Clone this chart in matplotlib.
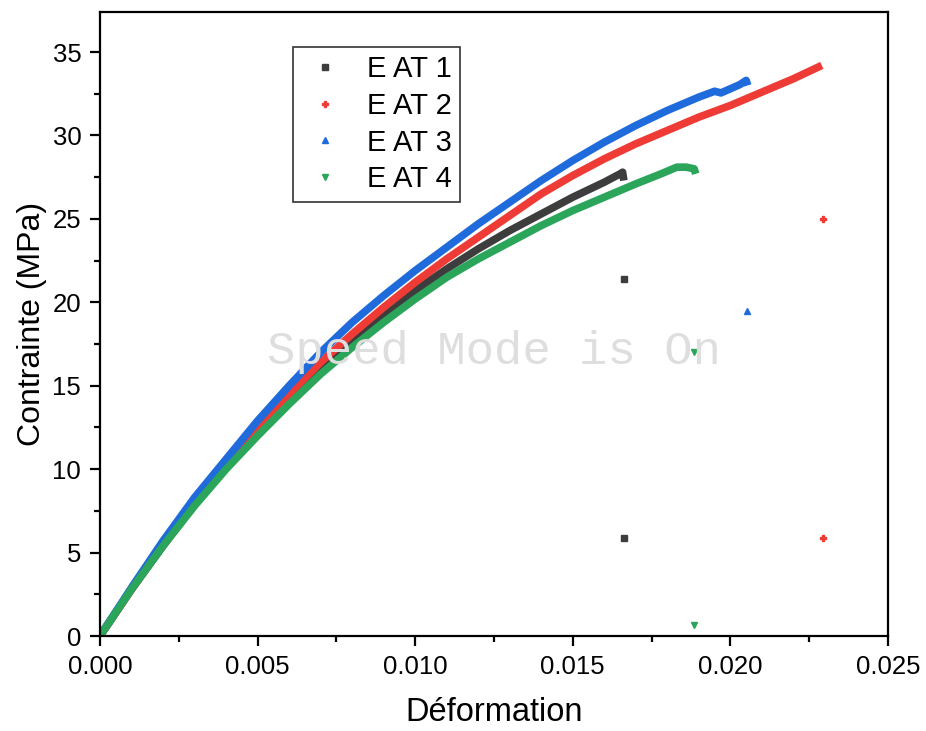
import matplotlib
matplotlib.use("Agg")
import matplotlib.pyplot as plt
from matplotlib.ticker import MultipleLocator, FormatStrFormatter

plt.rcParams['font.family'] = ['Liberation Sans', 'DejaVu Sans']

# Strain / stress curves for the four specimens
strain_1 = [0.000, 0.001, 0.002, 0.003, 0.004, 0.005, 0.006, 0.007, 0.008, 0.009,
            0.010, 0.011, 0.012, 0.013, 0.014, 0.015, 0.016, 0.0165, 0.01658, 0.01662]
stress_1 = [0.0, 2.8, 5.4, 7.9, 10.1, 12.2, 14.2, 16.0, 17.7, 19.3,
            20.7, 22.0, 23.2, 24.3, 25.3, 26.3, 27.2, 27.7, 27.8, 27.3]

strain_2 = [0.000, 0.001, 0.002, 0.003, 0.004, 0.005, 0.006, 0.007, 0.008, 0.009,
            0.010, 0.011, 0.012, 0.013, 0.014, 0.015, 0.016, 0.017, 0.018, 0.019,
            0.020, 0.021, 0.022, 0.0229]
stress_2 = [0.0, 2.8, 5.5, 8.0, 10.3, 12.5, 14.5, 16.4, 18.1, 19.7,
            21.2, 22.6, 23.9, 25.2, 26.5, 27.6, 28.6, 29.5, 30.3, 31.1,
            31.8, 32.6, 33.4, 34.2]

strain_3 = [0.000, 0.001, 0.002, 0.003, 0.004, 0.005, 0.006, 0.007, 0.008, 0.009,
            0.010, 0.011, 0.012, 0.013, 0.014, 0.015, 0.016, 0.017, 0.018, 0.019,
            0.0195, 0.0197, 0.0200, 0.0203, 0.0205, 0.02055]
stress_3 = [0.0, 2.9, 5.7, 8.3, 10.6, 12.9, 15.0, 17.0, 18.8, 20.4,
            21.9, 23.3, 24.7, 26.0, 27.3, 28.5, 29.6, 30.6, 31.5, 32.3,
            32.65, 32.55, 32.8, 33.05, 33.3, 33.0]

strain_4 = [0.000, 0.001, 0.002, 0.003, 0.004, 0.005, 0.006, 0.007, 0.008, 0.009,
            0.010, 0.011, 0.012, 0.013, 0.014, 0.015, 0.016, 0.017, 0.0178, 0.0183,
            0.0186, 0.01885, 0.0189]
stress_4 = [0.0, 2.8, 5.4, 7.8, 10.0, 12.0, 13.9, 15.7, 17.3, 18.8,
            20.2, 21.5, 22.6, 23.6, 24.6, 25.5, 26.3, 27.1, 27.7, 28.1,
            28.1, 28.0, 27.7]

# Isolated points recorded after rupture
tail_strain_1 = [0.01662, 0.01662]
tail_stress_1 = [21.4, 5.9]
tail_strain_2 = [0.02294, 0.02294]
tail_stress_2 = [25.0, 5.9]
tail_strain_3 = [0.02053]
tail_stress_3 = [19.5]
tail_strain_4 = [0.01884, 0.01884]
tail_stress_4 = [17.0, 0.66]

labels = ["E AT 1", "E AT 2", "E AT 3", "E AT 4"]
colors = ["#3d3d3d", "#ee3b36", "#1f6bdb", "#2aa55a"]
markers = ["s", "P", "^", "v"]

W, H = 926, 731
fig = plt.figure(figsize=(W / 100, H / 100), dpi=100)
ax = fig.add_axes([100 / W, 1 - 636 / H, (888 - 100) / W, (636 - 12) / H])

curves = [(strain_1, stress_1, tail_strain_1, tail_stress_1),
          (strain_2, stress_2, tail_strain_2, tail_stress_2),
          (strain_3, stress_3, tail_strain_3, tail_stress_3),
          (strain_4, stress_4, tail_strain_4, tail_stress_4)]

for (sx, sy, tx, ty), lab, col, mk in zip(curves, labels, colors, markers):
    ax.plot(sx, sy, color=col, lw=5.5, solid_capstyle='butt', solid_joinstyle='round', zorder=2)
    ax.plot(tx, ty, linestyle='none', marker=mk, color=col, markersize=4.2, zorder=2)
    ax.plot([], [], linestyle='none', marker=mk, color=col, markersize=4.2, label=lab)

ax.set_xlim(0, 0.025)
ax.set_ylim(0, 37.4)
ax.xaxis.set_major_locator(MultipleLocator(0.005))
ax.xaxis.set_minor_locator(MultipleLocator(0.0025))
ax.yaxis.set_major_locator(MultipleLocator(5))
ax.yaxis.set_minor_locator(MultipleLocator(2.5))
ax.xaxis.set_major_formatter(FormatStrFormatter('%.3f'))
ax.yaxis.set_major_formatter(FormatStrFormatter('%d'))

for s in ax.spines.values():
    s.set_linewidth(1.6)
ax.tick_params(which='major', direction='out', length=7.5, width=1.6, labelsize=18.5,
               top=False, right=False, pad=6)
ax.tick_params(which='minor', direction='out', length=4.5, width=1.6, top=False, right=False)

ax.set_xlabel("Déformation", fontsize=23.5, labelpad=13)
ax.set_ylabel("Contrainte (MPa)", fontsize=23, labelpad=4)

leg = ax.legend(loc='upper left', bbox_to_anchor=((293 - 100) / 788, (636 - 47) / 624),
                frameon=True, fancybox=False, edgecolor='black', fontsize=21,
                handlelength=1.65, handletextpad=0.6, labelspacing=0.3,
                borderpad=0.28, borderaxespad=0, markerscale=1.0)
leg.get_frame().set_linewidth(1.2)

ax.text(0.0125, 17.0, "Speed Mode is On", fontsize=34, family=['Liberation Mono', 'DejaVu Sans Mono'],
        color='#dedede', ha='center', va='center', zorder=5)

fig.savefig("out.png", dpi=100)
